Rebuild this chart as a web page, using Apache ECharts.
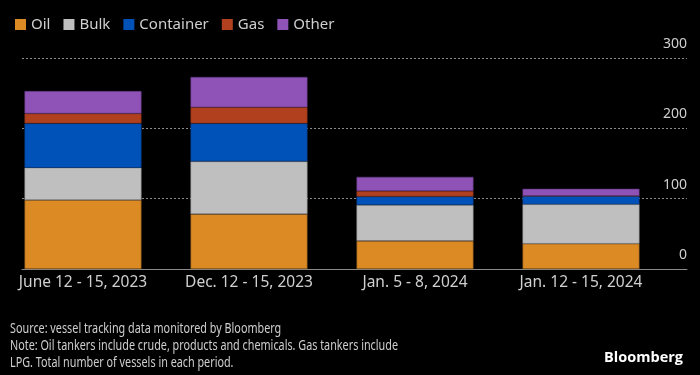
<!DOCTYPE html>
<html>
<head>
<meta charset="utf-8">
<script src="https://cdn.jsdelivr.net/npm/echarts@6/dist/echarts.min.js"></script>
<style>
html,body{margin:0;padding:0;background:#000;}
#chart{width:700px;height:375px;}
</style>
</head>
<body>
<div id="chart"></div>
<script>
const categories = ['June 12 - 15, 2023', 'Dec. 12 - 15, 2023', 'Jan. 5 - 8, 2024', 'Jan. 12 - 15, 2024'];
const oil = [98, 78, 40, 36];
const bulk = [46, 75, 51, 56];
const container = [63, 54, 12, 12];
const gas = [14, 23, 8, 0];
const other = [32, 43, 20, 10];
const yTicks = [0, 100, 200, 300];
const footnotes = [
  'Source: vessel tracking data monitored by Bloomberg',
  'Note: Oil tankers include crude, products and chemicals. Gas tankers include',
  'LPG. Total number of vessels in each period.'
];

const FONT = '"Noto Sans", "Open Sans", sans-serif';
const chart = echarts.init(document.getElementById('chart'), null, {renderer: 'canvas'});

const seriesDefs = [
  {name: 'Oil', data: oil, color: '#DC8A24', border: '#7a5020'},
  {name: 'Bulk', data: bulk, color: '#BFBFBF', border: '#8a8a8a'},
  {name: 'Container', data: container, color: '#0052B9', border: '#0a3a80'},
  {name: 'Gas', data: gas, color: '#B1411E', border: '#7a2e16'},
  {name: 'Other', data: other, color: '#8F52B7', border: '#5e3680'}
];

chart.setOption({
  backgroundColor: '#000',
  animation: false,
  legend: {
    left: 10, top: 12,
    itemWidth: 11, itemHeight: 11, itemGap: 13,
    icon: 'rect',
    itemStyle: {borderWidth: 0},
    textStyle: {color: '#cfcfcf', fontSize: 15, fontFamily: FONT},
    data: seriesDefs.map(s => s.name)
  },
  grid: [
    {left: -4, right: 36, top: 58, bottom: 106},
    {left: 22, right: 13, top: 58, bottom: 106}
  ],
  xAxis: [
    {
      type: 'category', gridIndex: 0, data: categories,
      axisLine: {show: false}, axisTick: {show: false},
      axisLabel: {color: '#d0d0d0', fontSize: 15.5, fontFamily: FONT, margin: 6, interval: 0}
    },
    {
      type: 'category', gridIndex: 1, data: ['a'],
      axisLine: {show: true, lineStyle: {color: '#8a8a8a', width: 1}},
      axisTick: {show: false}, axisLabel: {show: false}
    }
  ],
  yAxis: [
    {
      type: 'value', gridIndex: 0, min: 0, max: 300, interval: 100,
      axisLine: {show: false}, axisTick: {show: false}, axisLabel: {show: false}, splitLine: {show: false}
    },
    {
      type: 'value', gridIndex: 1, position: 'right', min: yTicks[0], max: yTicks[yTicks.length-1], interval: 100,
      axisLine: {show: false}, axisTick: {show: false},
      axisLabel: {inside: true, color: '#d0d0d0', fontSize: 14, fontFamily: FONT, verticalAlign: 'bottom', margin: 0, padding: [0,0,7,0]},
      splitLine: {show: true, lineStyle: {color: '#8a8a8a', type: [2, 2], width: 1}}
    }
  ],
  series: seriesDefs.map(s => ({
    name: s.name, type: 'bar', stack: 'total', xAxisIndex: 0, yAxisIndex: 0,
    barWidth: 117, data: s.data,
    itemStyle: {color: s.color, borderColor: s.border, borderWidth: 0.6}
  })),
  graphic: [
    ...footnotes.map((t, i) => ({
      type: 'text', x: 10, y: 321 + i * 17, scaleX: 0.72, scaleY: 1,
      style: {text: t, fill: '#cfcfcf', font: '15px ' + FONT}
    })),
    {
      type: 'text', right: 17, top: 350,
      style: {text: 'Bloomberg', fill: '#ffffff', font: 'bold 14.5px "Open Sans", "Noto Sans", sans-serif'}
    }
  ]
});
</script>
</body>
</html>
